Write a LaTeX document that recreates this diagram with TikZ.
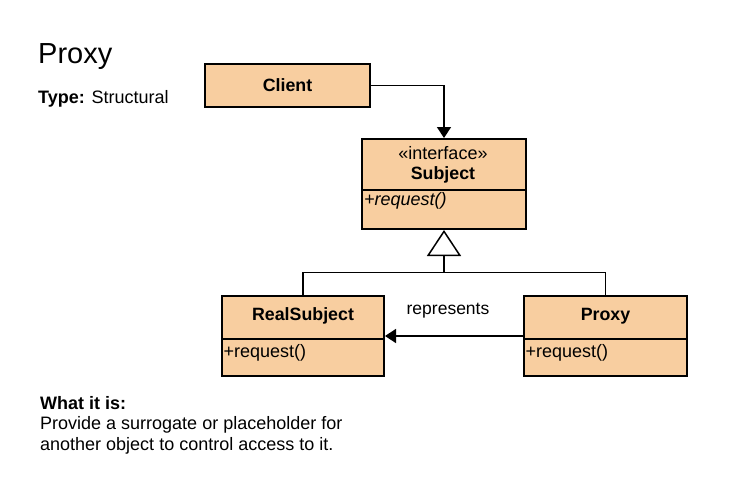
\documentclass[tikz,border=0pt]{standalone}
\usepackage{fontspec}
\setmainfont{Liberation Sans}
\usetikzlibrary{arrows.meta}
\definecolor{peach}{RGB}{248,206,160}
\begin{document}
\begin{tikzpicture}[x=1pt,y=-1pt,
  umlbox/.style={draw=black,fill=peach,line width=2pt,inner sep=0pt},
  boxtext/.style={inner sep=0pt,anchor=base,font=\fontsize{17.8}{21}\selectfont\bfseries},
  optext/.style={inner sep=0pt,anchor=base west,font=\fontsize{18}{21}\selectfont},
  plain/.style={inner sep=0pt,anchor=base west,font=\fontsize{18}{21}\selectfont},
  conn/.style={line width=1.5pt},
  solidhead/.style={-{Triangle[length=11pt,width=14pt]}},
  openhead/.style={-{Triangle[open,length=26pt,width=34pt,line width=1.5pt]}}]
\useasboundingbox (0,0) rectangle (750,480);
% title
\node[inner sep=0pt,anchor=base west,font=\fontsize{29}{34}\selectfont] (title) at (38,63) {Proxy};
\node[plain] (type) at (38,103) {\textbf{Type:} Structural};
% Client
\node[umlbox,minimum width=165pt,minimum height=43pt] (client) at (287.5,85.5) {};
\node[boxtext] (clientlbl) at (287.5,91.5) {Client};
% Subject
\node[umlbox,minimum width=164pt,minimum height=90pt] (subj) at (444,184) {};
\draw[line width=1.5pt] (subj.west |- 0,190) -- (subj.east |- 0,190);
\node[inner sep=0pt,anchor=base,font=\fontsize{18}{21}\selectfont] (stereo) at (443,159.5) {«interface»};
\node[boxtext] (subjlbl) at (443,179.5) {Subject};
\node[optext] (subjop) at (364,205.5) {\itshape +request()};
% RealSubject
\node[umlbox,minimum width=162pt,minimum height=80pt] (real) at (303,336) {};
\draw[line width=1.5pt] (real.west |- 0,339) -- (real.east |- 0,339);
\node[boxtext] (reallbl) at (303,320) {RealSubject};
\node[optext] (realop) at (223.5,357) {+request()};
% Proxy
\node[umlbox,minimum width=163pt,minimum height=80pt] (prox) at (605.5,336) {};
\draw[line width=1.5pt] (prox.west |- 0,339) -- (prox.east |- 0,339);
\node[boxtext] (proxlbl) at (605.5,320) {Proxy};
\node[optext] (proxop) at (525.5,357) {+request()};
% connectors
\coordinate (junc) at (444,272.5);
\draw[conn,solidhead] (client.east) -| (subj.north);
\draw[conn,openhead] (real.north) |- (junc) -- (subj.south);
\draw[conn] (prox.north) |- (junc);
\draw[conn,solidhead] (prox.west) -- (real.east);
\node[inner sep=0pt,anchor=base,font=\fontsize{17.5}{21}\selectfont] (rep) at (448,314.5) {represents};
% description
\node[plain,font=\fontsize{18}{21}\selectfont\bfseries] (what) at (40,409) {What it is:};
\node[plain] (desc1) at (40,429.5) {Provide a surrogate or placeholder for};
\node[plain] (desc2) at (40,450) {another object to control access to it.};
\end{tikzpicture}
\end{document}
